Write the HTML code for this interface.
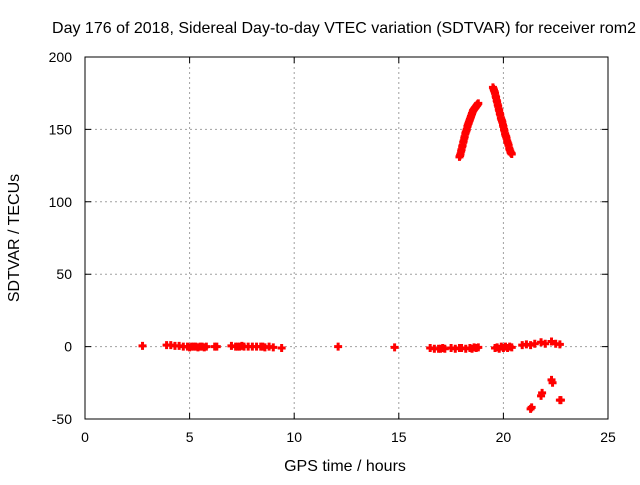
<!DOCTYPE html>
<html><head><meta charset="utf-8"><style>
body{margin:0;background:#fff;width:640px;height:480px;overflow:hidden}
text{font-family:"Liberation Sans",sans-serif;font-size:14px;fill:#000}
.big{font-size:16px}
</style></head><body>
<svg id="chart" width="640" height="480">
<text class="big" x="344" y="33" text-anchor="middle">Day 176 of 2018, Sidereal Day-to-day VTEC variation (SDTVAR) for receiver rom2</text>
<g id="grid"></g>
<rect x="85" y="57" width="523" height="362" fill="none" stroke="#000" stroke-width="1"/>
<g id="ticks"></g>
<text class="big" x="345" y="471" text-anchor="middle">GPS time / hours</text>
<text class="big" transform="translate(19,238) rotate(-90)" text-anchor="middle">SDTVAR / TECUs</text>
<g id="marks"></g>
</svg>
<script>
const xTicks=[0,5,10,15,20,25];
const yTicks=[-50,0,50,100,150,200];
const hours=[2.75,3.9,4.1,4.3,4.5,4.7,4.9,5.0,5.1,5.2,5.3,5.4,5.5,5.6,5.7,5.8,6.2,6.3,7.0,7.2,7.3,7.4,7.5,7.6,7.8,8.0,8.2,8.4,8.5,8.6,8.8,9.0,9.4,12.1,14.8,
16.5,16.7,16.9,17.0,17.1,17.2,17.5,17.7,17.9,18.0,18.2,18.4,18.5,18.6,18.7,18.8,
19.6,19.7,19.8,19.9,20.0,20.1,20.2,20.3,20.4,20.9,21.1,21.3,21.5,21.8,22.0,22.3,22.5,22.7,
17.9,17.93,17.95,17.98,18.0,18.03,18.05,18.08,18.1,18.13,18.15,18.18,18.2,18.23,18.25,18.28,18.3,18.33,18.35,18.38,18.4,18.43,18.45,18.48,18.5,18.53,18.55,18.58,18.6,18.63,18.65,18.68,18.7,18.73,18.75,18.78,18.8,
19.5,19.53,19.55,19.58,19.6,19.63,19.65,19.68,19.7,19.73,19.75,19.78,19.8,19.83,19.85,19.88,19.9,19.93,19.95,19.98,20.0,20.03,20.05,20.08,20.1,20.13,20.15,20.18,20.2,20.23,20.25,20.28,20.3,20.33,20.35,20.38,20.4,
21.3,21.35,21.8,21.85,22.3,22.35,22.7,22.75];
const sdtvar=[0.5,1,1,0.5,0.5,0,0,-0.5,0,0,0,-0.5,0,0,-0.5,0,0,0,0.5,0,0,0,0.5,0,0,0,0,0,0,-0.5,0,-0.5,-1,0,-0.5,
-1,-1.5,-1.5,-1.5,-1,-1.5,-1,-1.5,-1,-1,-1.5,-1,-1.5,-0.5,-1,-0.5,
-1,-0.5,-1.5,0,-1,0,-1,0,-0.5,1,1.5,1,2,3,2,3.5,2,1.5,
131,132,133,135,136,138,139,141,142,144,145,147,148,149,150,152,153,154,155,156,157,158,159,160,161,162,163,163.5,164,164.5,165,165.5,166,166.5,167,167.5,168,
179,178,177,176,175,173,172,170,169,167,166,164,163,161,160,158,157,156,155,153,152,150,149,147,146,145,144,142,141,140,139,137,136,135,134,133.5,133,
-43,-42,-34,-32,-23,-25,-37,-37];
const X=h=>85+h*523/25, Y=v=>346.6-v*362/250;
const ns="http://www.w3.org/2000/svg";
const grid=document.getElementById('grid'),ticks=document.getElementById('ticks'),marks=document.getElementById('marks');
function el(tag,attrs,parent){const e=document.createElementNS(ns,tag);for(const k in attrs)e.setAttribute(k,attrs[k]);parent.appendChild(e);return e;}
xTicks.forEach(t=>{
 if(t>0&&t<25){const g=el('line',{x1:X(t),x2:X(t),y1:57,y2:419,stroke:'#a0a0a0','stroke-dasharray':'2,3'},grid);
 }
 const tk=el('path',{d:`M${X(t)},419v-6M${X(t)},57v6`,stroke:'#000'},ticks);
 
 const tx=el('text',{x:X(t),y:442,'text-anchor':'middle'},ticks);tx.textContent=t;
 
});
yTicks.forEach(t=>{
 if(t>-50&&t<200){const g=el('line',{x1:85,x2:608,y1:Y(t),y2:Y(t),stroke:'#a0a0a0','stroke-dasharray':'2,3'},grid);
 }
 const tk=el('path',{d:`M85,${Y(t)}h6M608,${Y(t)}h-6`,stroke:'#000'},ticks);
 
 const tx=el('text',{x:72,y:Y(t)+5,'text-anchor':'end'},ticks);tx.textContent=t;
 
});
hours.forEach((h,i)=>{
 const x=X(h),y=Y(sdtvar[i]);
 const p=el('path',{d:`M${x-4},${y}h8M${x},${y-4}v8`,stroke:'#ff0000','stroke-width':3},marks);
 
});
</script>
</body></html>
